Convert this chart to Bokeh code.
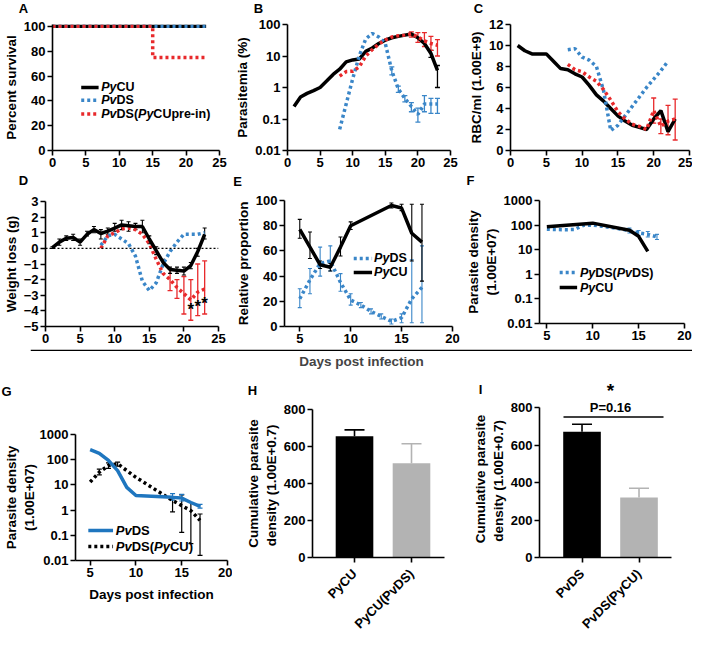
import math
from bokeh.plotting import figure
from bokeh.models import (Range1d, FixedTicker, CustomJSTickFormatter, ColumnDataSource,
                          Whisker, TeeHead, Label, Span)
from bokeh.layouts import column, row
from bokeh.embed import file_html
from bokeh.resources import INLINE
from bokeh.core.properties import value

# ---------------- data ----------------
# A: survival
surv_days_PyCU = [0, 23]
surv_PyCU = [100, 100]
surv_days_PvDS = [0, 23]
surv_PvDS = [100, 100]
surv_days_pre = [0, 15, 23]
surv_pre = [100, 75, 75]

# B: parasitemia (%)
days_B = list(range(1, 24))
para_PyCU = [0.25, 0.5, 0.65, 0.8, 1.0, 1.6, 2.6, 3.8, 6.5, 7.5, 8.0, 14, 18, 25, 32, 38, 42, 46, 50, 38, 25, 12, 3.5]
days_B2 = list(range(8, 24))
para_PvDS = [0.047, 0.3, 1.9, 10, 35, 52, 40, 25, 3.4, 0.9, 0.45, 0.25, 0.14, 0.3, 0.3, 0.3]
para_pre = [2.3, 3.2, 3.3, 4.5, 10, 16, 24, 32, 40, 44, 46, 50, 40, 30, 25, 22]
errB_PyCU_days = [22, 23]
errB_PyCU_lo = [9, 1.0]
errB_PyCU_hi = [15, 5.0]
errB_PvDS_days = [16, 17, 18, 19, 20, 21, 22, 23]
errB_PvDS_lo = [2.5, 0.7, 0.35, 0.17, 0.08, 0.17, 0.15, 0.15]
errB_PvDS_hi = [4.5, 1.1, 0.55, 0.33, 0.22, 0.55, 0.45, 0.45]
errB_pre_days = [19, 20, 21, 22, 23]
errB_pre_lo = [40, 27, 20, 15, 10]
errB_pre_hi = [58, 55, 55, 42, 33]

# C: RBC/ml
days_C = list(range(1, 24))
rbc_PyCU = [10.0, 9.5, 9.2, 9.2, 9.2, 8.5, 7.8, 7.7, 7.3, 7.0, 6.2, 5.3, 4.7, 4.0, 3.3, 2.8, 2.4, 2.2, 2.0, 3.0, 3.8, 1.8, 3.0]
days_C_PvDS = list(range(8, 23))
rbc_PvDS = [9.6, 9.7, 8.9, 8.6, 8.0, 5.7, 1.9, 2.4, 3.3, 4.2, 5.1, 6.0, 6.8, 7.6, 8.5]
days_C_pre = list(range(8, 24))
rbc_pre = [8.2, 7.7, 7.5, 7.0, 6.6, 5.8, 4.8, 3.7, 3.0, 2.5, 2.3, 2.0, 3.8, 2.3, 2.8, 3.0]
errC_pre_days = [20, 21, 22, 23]
errC_pre_lo = [2.6, 1.6, 1.5, 1.0]
errC_pre_hi = [5.0, 3.0, 4.3, 4.9]

# D: weight loss (g)
days_D = list(range(1, 24))
wl_PyCU = [0.05, 0.4, 0.65, 0.7, 0.4, 0.9, 1.2, 0.95, 1.1, 1.3, 1.5, 1.45, 1.4, 1.4, 0.6, -0.15, -0.9, -1.35, -1.4, -1.45, -1.1, -0.2, 0.9]
wl_PyCU_lo = [0.0, 0.2, 0.5, 0.5, 0.2, 0.8, 1.0, 0.6, 0.9, 1.1, 1.2, 1.1, 1.2, 1.0, 0.3, -0.4, -1.1, -1.6, -1.6, -1.7, -1.3, -0.5, 0.6]
wl_PyCU_hi = [0.1, 0.6, 0.8, 0.9, 0.6, 1.1, 1.4, 1.2, 1.3, 1.6, 1.8, 1.7, 1.6, 1.8, 0.8, 0.1, -0.7, -1.2, -1.2, -1.2, -0.9, 0.0, 1.3]
days_D2 = list(range(8, 24))
wl_PvDS = [0.2, 0.8, 0.9, 0.6, 0.3, -0.5, -2.1, -2.7, -2.2, -1.0, -0.2, 0.4, 0.9, 0.9, 0.9, 1.0]
wl_pre = [0.0, 0.8, 1.0, 1.25, 1.3, 1.2, 0.9, 0.3, -0.7, -1.6, -2.0, -2.5, -2.9, -3.3, -2.8, -2.6]
errD_pre_days = [18, 19, 20, 21, 22, 23]
errD_pre_lo = [-2.7, -3.2, -4.2, -4.6, -4.3, -4.2]
errD_pre_hi = [-1.3, -2.0, -1.8, -2.0, -1.0, -0.8]
sig_days_D = [21, 22, 23]
sig_y_D = [-3.9, -3.7, -3.5]

# E: relative proportion
days_E_PyCU = [5, 6, 7, 8, 9, 10, 14, 15, 16, 17]
prop_PyCU = [77, 63, 49, 47, 63, 80, 96, 94, 74, 67]
prop_PyCU_lo = [70, 54, 46, 44, 56, 77, 94, 92, 52, 36]
prop_PyCU_hi = [85, 75, 52, 50, 71, 83, 98, 97, 97, 97]
days_E_PyDS = [5, 6, 7, 8, 9, 10, 11, 12, 13, 14, 15, 16, 17]
prop_PyDS = [22, 37, 50, 52, 35, 21, 17, 12, 8, 4, 7, 22, 31]
prop_PyDS_lo = [15, 26, 40, 44, 28, 17, 15, 10, 6, 2, 3, 3, 3]
prop_PyDS_hi = [30, 46, 63, 64, 42, 26, 19, 14, 10, 6, 10, 53, 64]

# F: parasite density
days_F_PyCU = [5, 10, 14, 15, 16]
dens_F_PyCU = [85, 120, 62, 35, 8.5]
days_F_PyDS = list(range(5, 18))
dens_F_PyDS = [68, 66, 65, 66, 98, 100, 90, 80, 70, 60, 48, 42, 33]
errF_days = [14, 15, 16, 17]
errF_lo = [48, 38, 33, 26]
errF_hi = [75, 60, 55, 42]

# G: parasite density
days_G_PvDS = [5, 6, 7, 8, 9, 10, 14, 15, 16, 17]
dens_G_PvDS = [250, 180, 93, 37, 8, 3.8, 3.2, 3.0, 2.0, 1.4]
errG_PvDS_days = [14, 15, 17]
errG_PvDS_lo = [2.5, 2.3, 1.2]
errG_PvDS_hi = [4.5, 4.2, 1.7]
days_G_mix = [5, 6, 7, 8, 9, 10, 14, 15, 16, 17]
dens_G_mix = [13, 32, 59, 69, 37, 20, 2.4, 1.5, 0.95, 0.39]
errG_mix_days = [6, 7, 8, 14, 15, 16, 17]
errG_mix_lo = [25, 45, 55, 0.85, 0.13, 0.047, 0.016]
errG_mix_hi = [42, 75, 80, 3.0, 4.0, 2.0, 0.7]

# H, I: cumulative parasite density
cats_H = ["PyCU", "PyCU(PvDS)"]
mean_H = [655, 510]
sem_H = [35, 105]
cats_I = ["PvDS", "PvDS(PyCU)"]
mean_I = [672, 320]
sem_I = [40, 50]
p_text_I = "P=0.16"
sig_line_I = 751

# panel letters
letters_row1 = ["A", "B", "C"]
letters_row2 = ["D", "E", "F"]
letters_row3 = ["G", "H", "I"]

# ---------------- styling helpers ----------------
FONT = "Liberation Sans"
BLUE = "#3a86c8"
RED = "#e8292b"
BLUE_SOLID = "#1f76bf"
GRAY = "#b3b3b3"

WID = {'P': 667, 'y': 556, 'v': 556, 'C': 722, 'U': 722, 'D': 722, 'S': 667, '(': 333, ')': 333,
       'p': 611, 'r': 389, 'e': 556, '-': 333, 'i': 278, 'n': 611}

log_fmt = CustomJSTickFormatter(code="return tick.toString();")


def make_fig(w, h, left, right, top, bottom, xr, yr, ylog=False):
    p = figure(width=w, height=h, x_range=xr, y_range=yr,
               y_axis_type="log" if ylog else "linear",
               output_backend="svg", toolbar_location=None,
               min_border_left=left, min_border_right=right,
               min_border_top=top, min_border_bottom=bottom)
    p.frame_align = False
    p.outline_line_color = None
    p.grid.visible = False
    for ax in p.axis:
        ax.axis_line_width = 1.6
        ax.major_tick_line_width = 1.6
        ax.major_tick_out = 5
        ax.major_tick_in = 0
        ax.minor_tick_line_color = None
        ax.major_label_text_font = FONT
        ax.major_label_text_font_style = "bold"
        ax.major_label_text_font_size = "13px"
        ax.major_label_text_color = "black"
        ax.major_label_standoff = 2
        ax.axis_label_text_font = FONT
        ax.axis_label_text_font_style = "bold"
        ax.axis_label_text_font_size = "13.5px"
        ax.axis_label_text_color = "black"
        ax.axis_label_standoff = 2
    return p


def strip(h):
    # a thin text-only band (coordinates = pixels from the band's top-left)
    s = figure(width=692, height=h, x_range=Range1d(0, 692), y_range=Range1d(h, 0),
               output_backend="svg", toolbar_location=None,
               x_axis_location=None, y_axis_location=None,
               min_border_left=0, min_border_right=0, min_border_top=0, min_border_bottom=0)
    s.frame_align = False
    s.outline_line_color = None
    s.grid.visible = False
    return s


def put_letters(s, xs, ys, txts):
    s.text(x=xs, y=ys, text=txts, text_font=value(FONT), text_font_style="bold",
           text_font_size="13px", text_align="center", text_baseline="middle", text_color="black")


def rich(p, x, y, pieces, size=12.5):
    off = 0.0
    for txt, it in pieces:
        p.text(x=[x], y=[y], text=[txt], x_offset=off, text_font=value(FONT),
               text_font_style="bold italic" if it else "bold", text_font_size=f"{size}px",
               text_baseline="middle", text_align="left", text_color="black")
        off += sum(WID.get(c, 556) for c in txt) * size / 1000.0


def err(p, xs, lo, hi, color, size=5, lw=1.3, heads=True):
    src = ColumnDataSource(dict(x=xs, lo=lo, hi=hi))
    p.add_layout(Whisker(base="x", lower="lo", upper="hi", source=src, line_color=color, line_width=lw,
                         upper_head=TeeHead(size=size, line_color=color, line_width=lw),
                         lower_head=TeeHead(size=size, line_color=color, line_width=lw) if heads else None))


def log_axis(p, ticks):
    p.yaxis.ticker = FixedTicker(ticks=ticks)
    p.yaxis.formatter = log_fmt


DOT = "3 3"
LW = 3.5

# ---------------- letter strip 1 ----------------
s1 = strip(16)
put_letters(s1, [23, 258, 478], [8, 8, 8], letters_row1)

# ---------------- A ----------------
pA = make_fig(232, 156, 39, 13, 8, 22, Range1d(0, 25), Range1d(0, 101.5))
pA.xaxis.ticker = FixedTicker(ticks=[0, 5, 10, 15, 20, 25])
pA.yaxis.ticker = FixedTicker(ticks=[0, 20, 40, 60, 80, 100])
pA.yaxis.axis_label = "Percent survival"
pA.line(surv_days_PyCU, surv_PyCU, line_color="black", line_width=LW)
pA.line(surv_days_PvDS, surv_PvDS, line_color=BLUE, line_width=LW, line_dash=DOT)
pA.step(surv_days_pre, surv_pre, mode="after", line_color=RED, line_width=LW, line_dash=DOT)
pA.line([4.3, 6.9], [50.8, 50.8], line_color="black", line_width=LW)
pA.line([4.3, 6.9], [40.5, 40.5], line_color=BLUE, line_width=LW, line_dash=DOT)
pA.line([4.3, 6.9], [29.4, 29.4], line_color=RED, line_width=LW, line_dash=DOT)
rich(pA, 7.3, 50.8, [("Py", True), ("CU", False)])
rich(pA, 7.3, 40.5, [("Pv", True), ("DS", False)])
rich(pA, 7.3, 29.4, [("Pv", True), ("DS(", False), ("Py", True), ("CUpre-in)", False)])

# ---------------- B ----------------
pB = make_fig(230, 156, 39, 12, 8, 22, Range1d(0, 25), Range1d(0.01, 100), ylog=True)
pB.xaxis.ticker = FixedTicker(ticks=[0, 5, 10, 15, 20, 25])
log_axis(pB, [0.01, 0.1, 1, 10, 100])
pB.yaxis.axis_label = "Parasitemia (%)"
pB.line(days_B, para_PyCU, line_color="black", line_width=LW)
err(pB, errB_PyCU_days, errB_PyCU_lo, errB_PyCU_hi, "black")
pB.line(days_B2, para_PvDS, line_color=BLUE, line_width=LW, line_dash=DOT)
err(pB, errB_PvDS_days, errB_PvDS_lo, errB_PvDS_hi, BLUE)
pB.line(days_B2, para_pre, line_color=RED, line_width=LW, line_dash=DOT)
err(pB, errB_pre_days, errB_pre_lo, errB_pre_hi, RED)

# ---------------- C ----------------
pC = make_fig(230, 156, 48, 3, 8, 22, Range1d(0, 25), Range1d(0, 12))
pC.xaxis.ticker = FixedTicker(ticks=[0, 5, 10, 15, 20, 25])
pC.yaxis.ticker = FixedTicker(ticks=[0, 2, 4, 6, 8, 10, 12])
pC.yaxis.axis_label = "RBC/ml (1.00E+9)"
pC.line(days_C, rbc_PyCU, line_color="black", line_width=LW)
pC.line(days_C_PvDS, rbc_PvDS, line_color=BLUE, line_width=LW, line_dash=DOT)
pC.line(days_C_pre, rbc_pre, line_color=RED, line_width=LW, line_dash=DOT)
err(pC, errC_pre_days, errC_pre_lo, errC_pre_hi, RED)

# ---------------- letter strip 2 ----------------
s2 = strip(16)
put_letters(s2, [23, 237, 470], [8, 9, 8], letters_row2)

# ---------------- D ----------------
pD = make_fig(232, 158, 39, 14, 13, 20, Range1d(0, 25), Range1d(-5, 3))
pD.xaxis.ticker = FixedTicker(ticks=[0, 5, 10, 15, 20, 25])
pD.yaxis.ticker = FixedTicker(ticks=[-5, -4, -3, -2, -1, 0, 1, 2, 3])
pD.yaxis.axis_label = "Weight loss (g)"
pD.add_layout(Span(location=0, dimension="width", line_color="black", line_width=1.2, line_dash="2 2"))
pD.line(days_D2, wl_PvDS, line_color=BLUE, line_width=LW, line_dash=DOT)
pD.line(days_D2, wl_pre, line_color=RED, line_width=LW, line_dash=DOT)
err(pD, errD_pre_days, errD_pre_lo, errD_pre_hi, RED)
pD.line(days_D, wl_PyCU, line_color="black", line_width=LW)
err(pD, days_D, wl_PyCU_lo, wl_PyCU_hi, "black", size=4, lw=1.1)
pD.text(x=sig_days_D, y=sig_y_D, text=["*"] * len(sig_days_D), text_font=value(FONT),
        text_font_style="bold", text_font_size="17px", text_align="center", text_baseline="middle",
        text_color="black")

# ---------------- E ----------------
pE = make_fig(230, 158, 43, 10, 12, 20, Range1d(3.5, 20), Range1d(0, 100))
pE.xaxis.ticker = FixedTicker(ticks=[5, 10, 15, 20])
pE.yaxis.ticker = FixedTicker(ticks=[0, 20, 40, 60, 80, 100])
pE.yaxis.axis_label = "Relative proportion"
pE.line(days_E_PyDS, prop_PyDS, line_color=BLUE, line_width=LW, line_dash=DOT)
err(pE, days_E_PyDS, prop_PyDS_lo, prop_PyDS_hi, BLUE, size=4, lw=1.1)
pE.line(days_E_PyCU, prop_PyCU, line_color="black", line_width=LW)
err(pE, days_E_PyCU, prop_PyCU_lo, prop_PyCU_hi, "black", size=4, lw=1.1)
pE.line([10.3, 12.1], [54, 54], line_color=BLUE, line_width=LW, line_dash=DOT)
pE.line([10.3, 12.1], [42.9, 42.9], line_color="black", line_width=LW)
rich(pE, 12.3, 54, [("Py", True), ("DS", False)])
rich(pE, 12.3, 42.9, [("Py", True), ("CU", False)])

# ---------------- F ----------------
pF = make_fig(230, 158, 64, 8, 12, 23, Range1d(4.2, 20), Range1d(0.01, 1000), ylog=True)
pF.xaxis.ticker = FixedTicker(ticks=[5, 10, 15, 20])
log_axis(pF, [0.01, 0.1, 1, 10, 100, 1000])
pF.yaxis.axis_label = "Parasite density\n(1.00E+07)"
pF.line(days_F_PyDS, dens_F_PyDS, line_color=BLUE, line_width=LW, line_dash=DOT)
err(pF, errF_days, errF_lo, errF_hi, BLUE, size=4, lw=1.1)
pF.line(days_F_PyCU, dens_F_PyCU, line_color="black", line_width=LW)
pF.line([6.4, 8.3], [1.18, 1.18], line_color=BLUE, line_width=LW, line_dash=DOT)
pF.line([6.4, 8.3], [0.29, 0.29], line_color="black", line_width=LW)
rich(pF, 8.6, 1.18, [("Py", True), ("DS(", False), ("Pv", True), ("DS)", False)])
rich(pF, 8.6, 0.29, [("Py", True), ("CU", False)])

# ---------------- divider ----------------
pDiv = figure(width=692, height=26, x_range=Range1d(0, 1), y_range=Range1d(0, 1),
              output_backend="svg", toolbar_location=None,
              x_axis_location=None, y_axis_location=None,
              min_border_left=30, min_border_right=0, min_border_top=0, min_border_bottom=0)
pDiv.frame_align = False
pDiv.outline_line_color = None
pDiv.grid.visible = False
pDiv.add_layout(Span(location=0.85, dimension="width", line_color="black", line_width=1.2))
pDiv.add_layout(Label(x=0.5, y=0.42, text="Days post infection", text_font=FONT,
                      text_font_style="bold", text_font_size="13.5px",
                      text_align="center", text_baseline="middle"))

# ---------------- letter strip 3 (with significance star of I) ----------------
s3 = strip(28)
put_letters(s3, [6, 252, 480], [19, 18, 17], letters_row3)
s3.text(x=[610], y=[18], text=["*"], text_font=value(FONT), text_font_style="bold",
        text_font_size="19px", text_align="center", text_baseline="middle", text_color="black")

# ---------------- G ----------------
pG = make_fig(232, 239, 61, 5, 34, 79, Range1d(3.4, 20), Range1d(0.01, 1000), ylog=True)
pG.xaxis.ticker = FixedTicker(ticks=[5, 10, 15, 20])
log_axis(pG, [0.01, 0.1, 1, 10, 100, 1000])
pG.yaxis.axis_label = "Parasite density\n(1.00E+07)"
pG.xaxis.axis_label = "Days post infection"
pG.xaxis.axis_label_standoff = 7
pG.yaxis.axis_label_standoff = 0
pG.line(days_G_mix, dens_G_mix, line_color="black", line_width=LW, line_dash=DOT)
err(pG, errG_mix_days, errG_mix_lo, errG_mix_hi, "black", size=5, lw=1.2)
pG.line(days_G_PvDS, dens_G_PvDS, line_color=BLUE_SOLID, line_width=LW)
err(pG, errG_PvDS_days, errG_PvDS_lo, errG_PvDS_hi, BLUE_SOLID, size=5, lw=1.2)
pG.line([4.8, 7.5], [0.155, 0.155], line_color=BLUE_SOLID, line_width=LW)
pG.line([4.8, 7.5], [0.036, 0.036], line_color="black", line_width=LW, line_dash=DOT)
rich(pG, 7.8, 0.155, [("Pv", True), ("DS", False)], size=13)
rich(pG, 7.8, 0.036, [("Pv", True), ("DS(", False), ("Py", True), ("CU)", False)], size=13)


# ---------------- H / I ----------------
def bar_fig(w, left, right, top, bottom, xr, yr, cats, means, sems):
    p = make_fig(w, 239, left, right, top, bottom, xr, yr)
    xs = [i + 1 for i in range(len(cats))]
    p.vbar(x=xs, top=means, width=0.66, fill_color=["black", GRAY], line_color=None)
    for xv, m, s, c in zip(xs, means, sems, ["black", GRAY]):
        err(p, [xv], [m], [m + s], c, size=20, lw=1.6, heads=False)
    p.xaxis.ticker = FixedTicker(ticks=xs)
    p.xaxis.major_label_overrides = {xv: c for xv, c in zip(xs, cats)}
    p.xaxis.major_label_orientation = math.pi / 4
    p.xaxis.major_label_standoff = 9
    p.yaxis.ticker = FixedTicker(ticks=[0, 200, 400, 600, 800])
    p.yaxis.bounds = (0, 800)
    p.yaxis.axis_label = "Cumulative parasite\ndensity  (1.00E+0.7)"
    return p


pH = bar_fig(225, 80, 13, 9, 67, Range1d(0.263, 2.579), Range1d(0, 800), cats_H, mean_H, sem_H)
pI = bar_fig(235, 82, 21, 0, 68, Range1d(0.254, 2.57), Range1d(0, 839), cats_I, mean_I, sem_I)
pI.line([0.675, 2.43], [sig_line_I, sig_line_I], line_color="black", line_width=1.4)
pI.text(x=[1.5], y=[800], text=[p_text_I], text_font=value(FONT), text_font_style="bold",
        text_font_size="13px", text_align="center", text_baseline="middle", text_color="black")

layout = column(s1, row(pA, pB, pC), s2, row(pD, pE, pF), pDiv, s3, row(pG, pH, pI))
open("out.html", "w").write(file_html(layout, INLINE))
